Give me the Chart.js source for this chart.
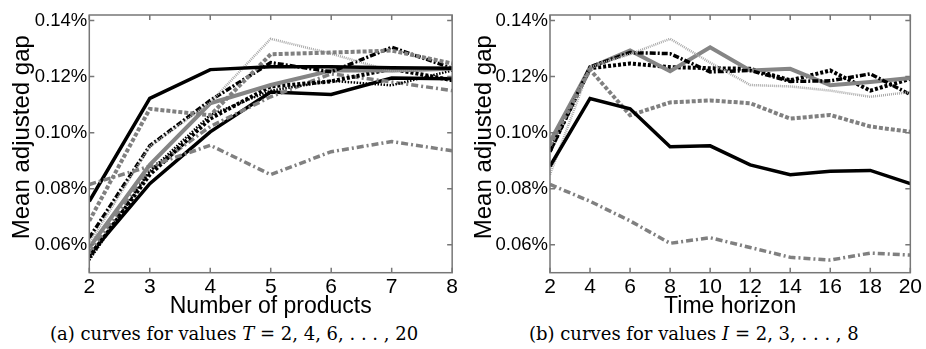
<!DOCTYPE html>
<html>
<head>
<meta charset="utf-8">
<script src="https://cdn.jsdelivr.net/npm/chart.js@4.4.1/dist/chart.umd.min.js"></script>
<style>
  body { margin: 0; background: #fff; width: 926px; height: 349px; overflow: hidden; position: relative; }
  .panel { position: absolute; top: 0; }
  .caption { position: absolute; top: 323px; font-family: "DejaVu Serif", "Liberation Serif", serif; font-size: 18px; color: #000; white-space: nowrap; }
  .caption i { font-style: italic; }
</style>
</head>
<body>
<div class="panel" style="left:0px"><canvas id="chartA" width="462" height="320"></canvas></div>
<div class="panel" style="left:462px"><canvas id="chartB" width="464" height="320"></canvas></div>
<div class="caption" style="left:50px">(a) curves for values <i>T</i> = 2, 4, 6, . . . , 20</div>
<div class="caption" style="left:529px">(b) curves for values <i>I</i> = 2, 3, . . . , 8</div>
<script>
// x values of the two panels
const products = [2, 3, 4, 5, 6, 7, 8];
const timeHorizons = [2, 4, 6, 8, 10, 12, 14, 16, 18, 20];
const yTicks = [0.06, 0.08, 0.10, 0.12, 0.14];

// mean adjusted gap (%) for each number of products I, over T = 2..20
const gapI2 = [0.0815, 0.0755, 0.0685, 0.0605, 0.0625, 0.0590, 0.0555, 0.0545, 0.0570, 0.0563];
const gapI3 = [0.0880, 0.1122, 0.1085, 0.0950, 0.0953, 0.0885, 0.0850, 0.0862, 0.0865, 0.0818];
const gapI4 = [0.0955, 0.1225, 0.1062, 0.1108, 0.1115, 0.1105, 0.1050, 0.1063, 0.1022, 0.1003];
const gapI5 = [0.0850, 0.1235, 0.1280, 0.1335, 0.1250, 0.1170, 0.1165, 0.1150, 0.1128, 0.1145];
const gapI6 = [0.0932, 0.1235, 0.1286, 0.1282, 0.1217, 0.1222, 0.1183, 0.1185, 0.1210, 0.1136];
const gapI7 = [0.0968, 0.1232, 0.1293, 0.1219, 0.1305, 0.1222, 0.1228, 0.1169, 0.1181, 0.1195];
const gapI8 = [0.0935, 0.1230, 0.1247, 0.1234, 0.1230, 0.1228, 0.1187, 0.1222, 0.1150, 0.1192];

const gapRows = [gapI2, gapI3, gapI4, gapI5, gapI6, gapI7, gapI8];

// line styles, cycled in order of the curves
const lineStyles = [
  { color: '#808080', width: 3.5, dash: [7, 3, 2, 3] }, // gray dash-dot
  { color: '#000000', width: 3.5, dash: [] },           // black solid
  { color: '#808080', width: 4, dash: [4, 2] },         // gray dashed
  { color: '#a8a8a8', width: 2.5, dash: [1, 1] },       // light gray dotted
  { color: '#000000', width: 3.5, dash: [6, 2, 2, 2] }, // black dash-dot
  { color: '#858585', width: 4, dash: [] },             // gray solid
  { color: '#000000', width: 4, dash: [3, 2] },         // black dotted (thick)
  { color: '#000000', width: 2.5, dash: [1.5, 1.5] }    // black dotted (thin)
];

function makeDataset(xs, ys, idx) {
  const st = lineStyles[idx % lineStyles.length];
  return {
    data: xs.map((x, i) => ({ x: x, y: ys[i] })),
    borderColor: st.color,
    borderWidth: st.width,
    borderDash: st.dash,
    pointRadius: 0,
    tension: 0,
    fill: false
  };
}

// panel (a): one curve per T, across number of products
const datasetsA = timeHorizons.map((t, j) =>
  makeDataset(products, gapRows.map(row => row[j]), j));
// panel (b): one curve per I, across time horizon
const datasetsB = gapRows.map((row, i) => makeDataset(timeHorizons, row, i));

// MATLAB style box with inward ticks on all sides
const boxPlugin = {
  id: 'boxTicks',
  afterDraw(chart) {
    const { ctx, chartArea: a, scales } = chart;
    const len = 5;
    ctx.save();
    ctx.strokeStyle = '#777777';
    ctx.lineWidth = 1.5;
    ctx.setLineDash([]);
    ctx.strokeRect(a.left, a.top, a.right - a.left, a.bottom - a.top);
    ctx.beginPath();
    scales.x.ticks.forEach(t => {
      const px = scales.x.getPixelForValue(t.value);
      ctx.moveTo(px, a.bottom); ctx.lineTo(px, a.bottom - len);
      ctx.moveTo(px, a.top); ctx.lineTo(px, a.top + len);
    });
    scales.y.ticks.forEach(t => {
      const py = scales.y.getPixelForValue(t.value);
      ctx.moveTo(a.left, py); ctx.lineTo(a.left + len, py);
      ctx.moveTo(a.right, py); ctx.lineTo(a.right - len, py);
    });
    ctx.stroke();
    ctx.restore();
  }
};

function makeOptions(xTicks, xTitle, padRight, yWidth) {
  return {
    responsive: false,
    animation: false,
    devicePixelRatio: 1,
    layout: { padding: { left: 0, right: padRight, top: 15, bottom: 0 } },
    plugins: { legend: { display: false }, tooltip: { enabled: false } },
    scales: {
      x: {
        type: 'linear',
        min: xTicks[0],
        max: xTicks[xTicks.length - 1],
        afterBuildTicks: s => { s.ticks = xTicks.map(v => ({ value: v })); },
        afterFit: s => { s.height = 47.3; },
        grid: { display: false, drawTicks: false },
        border: { display: false },
        ticks: {
          color: '#000',
          padding: 4,
          maxRotation: 0,
          autoSkip: false,
          font: { family: '"Liberation Sans", Arial, sans-serif', size: 21, lineHeight: 1 },
          callback: v => String(v)
        },
        title: {
          display: true,
          text: xTitle,
          color: '#000',
          padding: { top: 0, bottom: 2 },
          font: { family: '"Liberation Sans", Arial, sans-serif', size: 23, lineHeight: 1 }
        }
      },
      y: {
        min: 0.05,
        max: 0.142,
        afterBuildTicks: s => { s.ticks = yTicks.map(v => ({ value: v })); },
        afterFit: s => { s.width = yWidth; },
        grid: { display: false, drawTicks: false },
        border: { display: false },
        ticks: {
          color: '#000',
          padding: 2,
          font: { family: '"Liberation Sans", Arial, sans-serif', size: 18.5, lineHeight: 1 },
          callback: v => v.toFixed(2) + '%'
        },
        title: {
          display: true,
          text: '  Mean adjusted gap',
          color: '#000',
          padding: { top: 10, bottom: 0 },
          font: { family: '"Liberation Sans", Arial, sans-serif', size: 24, lineHeight: 1 }
        }
      }
    }
  };
}

new Chart(document.getElementById('chartA'), {
  type: 'line',
  data: { datasets: datasetsA },
  options: makeOptions(products, 'Number of products', 8, 89.3),
  plugins: [boxPlugin]
});

new Chart(document.getElementById('chartB'), {
  type: 'line',
  data: { datasets: datasetsB },
  options: makeOptions(timeHorizons, 'Time horizon', 11, 88),
  plugins: [boxPlugin]
});
</script>
</body>
</html>
